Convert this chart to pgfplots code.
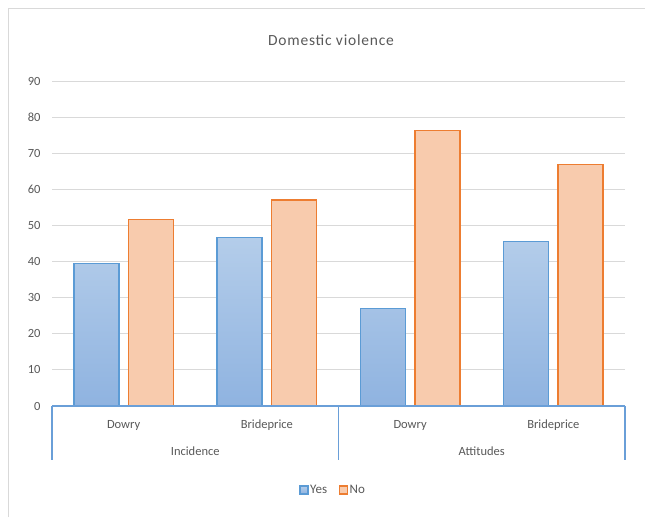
\documentclass[border=0pt]{standalone}
\usepackage{fontspec}
\setmainfont{Carlito}
\newfontfamily\titlefont[LetterSpace=5]{Carlito}
\usepackage{pgfplots}
\pgfplotsset{compat=1.18}
\definecolor{txt}{HTML}{595959}
\definecolor{gridc}{HTML}{D9D9D9}
\definecolor{yesline}{HTML}{5B9BD5}
\definecolor{yestop}{HTML}{B4CDEA}
\definecolor{yesbot}{HTML}{8FB3E0}
\definecolor{noline}{HTML}{ED7D31}
\definecolor{nofill}{HTML}{F8CBAD}
\definecolor{catax}{HTML}{6A9FD8}
\begin{document}
\begin{tikzpicture}
\path[use as bounding box] (0pt,0pt) rectangle (645pt,517pt);
\fill[white] (0pt,0pt) rectangle (645pt,517pt);
\draw[gridc, line width=1.5pt] (8.5pt,0pt) -- (8.5pt,508.5pt) -- (645pt,508.5pt);
\node[text=txt, font=\titlefont\fontsize{15.5}{18}\selectfont] at (331pt,477pt) {Domestic violence};
\begin{axis}[
  at={(52pt,111pt)}, anchor=south west,
  scale only axis, width=573pt, height=325pt,
  ymin=0, ymax=90, ytick={0,10,...,90},
  xmin=-0.5, xmax=3.5,
  xtick={0,1,2,3}, xticklabels={Dowry,Brideprice,Dowry,Brideprice},
  axis line style={draw=none},
  ymajorgrids, xmajorgrids=false, grid style={draw=gridc, line width=1pt},
  major tick length=0pt,
  tick label style={text=txt, font=\fontsize{12.5}{14}\selectfont},
  /pgf/number format/assume math mode=true,
  yticklabel style={xshift=-8pt},
  xticklabel style={anchor=center, yshift=-19pt},
  ybar=9.7pt, bar width=45pt,
  legend style={at={(0.49,-0.258)}, anchor=center, legend columns=2, draw=none,
    inner sep=0pt,
    nodes={font=\fontsize{13}{15}\selectfont, text=txt, inner sep=1.5pt},
    /tikz/every even column/.append style={column sep=10pt}},
  legend image code/.code={\draw[#1] (0pt,-4pt) rectangle (8pt,4pt);},
  clip=false,
]
\addplot[draw=yesline, line width=1.5pt, top color=yestop, bottom color=yesbot] coordinates {(0,39.5) (1,46.7) (2,27.0) (3,45.5)};
\addplot[draw=noline, line width=1.5pt, fill=nofill] coordinates {(0,51.7) (1,57.0) (2,76.3) (3,66.9)};
\legend{Yes,No}
\draw[catax, line width=1.3pt] (axis cs:-0.5,0) -- (axis cs:3.5,0);
\draw[catax, line width=1.3pt] (axis cs:-0.5,0) -- ++(0pt,-54pt);
\draw[catax, line width=1.3pt] (axis cs:1.5,0) -- ++(0pt,-54pt);
\draw[catax, line width=1.3pt] (axis cs:3.5,0) -- ++(0pt,-54pt);
\node[text=txt, font=\fontsize{12.5}{14}\selectfont] at ([yshift=-45pt]axis cs:0.5,0) {Incidence};
\node[text=txt, font=\fontsize{12.5}{14}\selectfont] at ([yshift=-45pt]axis cs:2.5,0) {Attitudes};
\end{axis}
\end{tikzpicture}
\end{document}
